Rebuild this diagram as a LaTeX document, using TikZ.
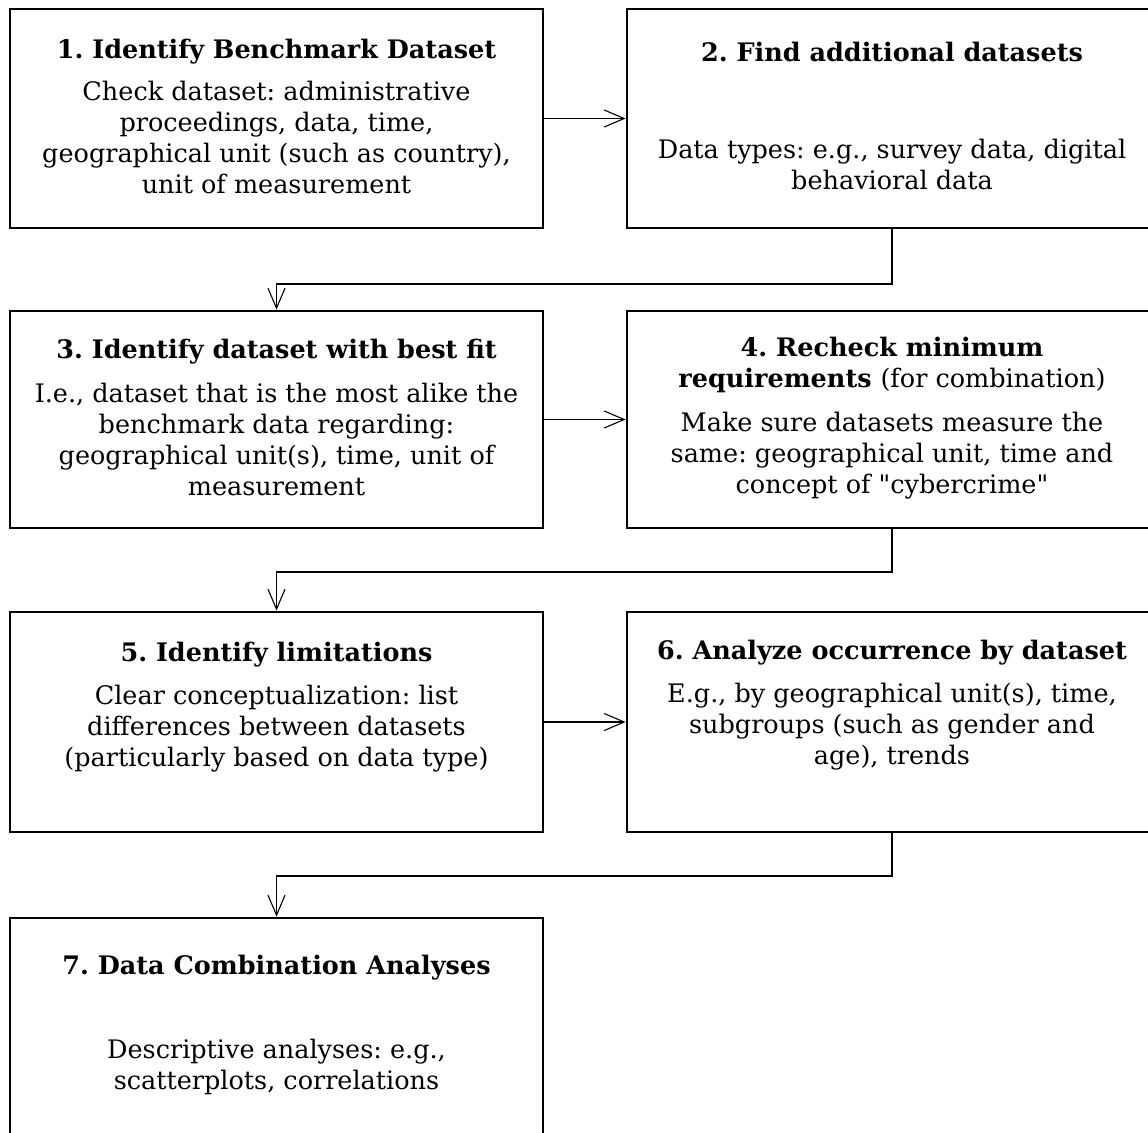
\documentclass[tikz,border=0pt]{standalone}
\usepackage{fontspec}
\setmainfont{DejaVu Serif}[Ligatures=TeXOff]
\usetikzlibrary{arrows.meta}
\tikzset{
  box/.style={draw, line width=2.8pt, inner sep=0pt, minimum width=533pt, minimum height=219pt},
  rbox/.style={box, minimum width=530pt},
  ttl/.style={inner sep=0pt, align=center, font=\frenchspacing\fontsize{25.5}{31}\selectfont\bfseries},
  body/.style={inner sep=0pt, align=center, font=\frenchspacing\fontsize{25.5}{31}\selectfont},
  conn/.style={line width=1.1pt, -{Straight Barb[length=20pt,width=17pt,line width=1.1pt]}},
}
\begin{document}
\begin{tikzpicture}[x=1pt,y=-1pt]
\useasboundingbox (0,0) rectangle (1148,1132);
\clip (0,0) rectangle (1148,1132);
% boxes
\node[box] (b1) at (276.5,118.5) {};
\node[rbox] (b2) at (892,118.5) {};
\node[box, minimum height=217pt] (b3) at (276.5,419.5) {};
\node[rbox, minimum height=217pt] (b4) at (892,419.5) {};
\node[box, minimum height=220pt] (b5) at (276.5,722) {};
\node[rbox, minimum height=220pt] (b6) at (892,722) {};
\node[box, minimum height=224pt] (b7) at (276.5,1030) {};
% texts
\node[ttl] (t1) at (276.5,52) {1. Identify Benchmark Dataset};
\node[body] (d1) at (276.5,137) {Check dataset: administrative\\proceedings, data, time,\\geographical unit (such as country),\\unit of measurement};
\node[ttl] (t2) at (892,52) {2. Find additional datasets};
\node[body] (d2) at (892,164) {Data types: e.g., survey data, digital\\behavioral data};
\node[ttl] (t3) at (276.5,352) {3. Identify dataset with best fit};
\node[body] (d3) at (276.5,439) {I.e., dataset that is the most alike the\\benchmark data regarding:\\geographical unit(s), time, unit of\\measurement};
\node[ttl] (t4) at (892,365) {4. Recheck minimum\\requirements \mdseries(for combination)};
\node[body] (d4) at (892,456) {Make sure datasets measure the\\same: geographical unit, time and\\concept of "cybercrime"};
\node[ttl] (t5) at (276.5,655) {5. Identify limitations};
\node[body] (d5) at (276.5,729) {Clear conceptualization: list\\differences between datasets\\(particularly based on data type)};
\node[ttl] (t6) at (892,653) {6. Analyze occurrence by dataset};
\node[body] (d6) at (892,727) {E.g., by geographical unit(s), time,\\subgroups (such as gender and\\age), trends};
\node[ttl] (t7) at (276.5,968) {7. Data Combination Analyses};
\node[body] (d7) at (276.5,1067) {Descriptive analyses: e.g.,\\scatterplots, correlations};
% connectors
\draw[conn] (b1.east) -- (b2.west);
\draw[conn] (b3.east) -- (b4.west);
\draw[conn] (b5.east) -- (b6.west);
\coordinate (k1) at (276.5,284);
\coordinate (k2) at (276.5,572);
\coordinate (k3) at (276.5,876);
\draw[conn] (b2.south) |- (k1) -- (b3.north);
\draw[conn] (b4.south) |- (k2) -- (b5.north);
\draw[conn] (b6.south) |- (k3) -- (b7.north);
\end{tikzpicture}
\end{document}
